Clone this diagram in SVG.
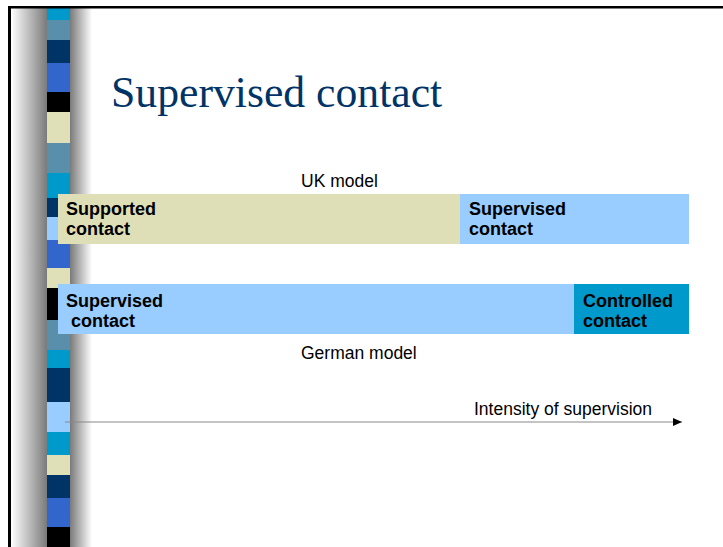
<svg xmlns="http://www.w3.org/2000/svg" width="723" height="547" viewBox="0 0 723 547">
<style>
.lbl{font-family:"Liberation Sans",Arial,sans-serif;font-size:18px;font-weight:bold;fill:#000}
.cap{font-family:"Liberation Sans",Arial,sans-serif;font-size:17.5px;fill:#000}
.title{font-family:"Liberation Serif","Times New Roman",serif;font-size:43.7px;fill:#003366}
</style>
<defs>
<linearGradient id="gl" x1="0" y1="0" x2="1" y2="0">
<stop offset="0" stop-color="#ffffff"/>
<stop offset="1" stop-color="#7a7a7a"/>
</linearGradient>
<linearGradient id="gr" x1="0" y1="0" x2="1" y2="0">
<stop offset="0" stop-color="#7a7a7a"/>
<stop offset="1" stop-color="#ffffff"/>
</linearGradient>
<marker id="ah" markerWidth="10" markerHeight="8" refX="9" refY="4" orient="auto" markerUnits="userSpaceOnUse">
<path d="M0,0 L9,4 L0,8 Z" fill="#000"/>
</marker>
</defs>
<rect x="0" y="0" width="723" height="547" fill="#fff"/>
<g id="background">
<rect x="11" y="8" width="36" height="539" fill="url(#gl)"/>
<rect x="70" y="8" width="22" height="539" fill="url(#gr)"/>
<g id="strip">
<rect x="47" y="8" width="23" height="12" fill="#0099cc"/>
<rect x="47" y="20" width="23" height="20" fill="#5a8fab"/>
<rect x="47" y="40" width="23" height="23" fill="#003366"/>
<rect x="47" y="63" width="23" height="29" fill="#3366cc"/>
<rect x="47" y="92" width="23" height="20" fill="#000000"/>
<rect x="47" y="112" width="23" height="31" fill="#e0e0b8"/>
<rect x="47" y="143" width="23" height="30" fill="#5a8fab"/>
<rect x="47" y="173" width="23" height="25" fill="#0099cc"/>
<rect x="47" y="198" width="23" height="19" fill="#003366"/>
<rect x="47" y="217" width="23" height="23" fill="#99ccff"/>
<rect x="47" y="240" width="23" height="28" fill="#3366cc"/>
<rect x="47" y="268" width="23" height="20" fill="#e0e0b8"/>
<rect x="47" y="288" width="23" height="32" fill="#000000"/>
<rect x="47" y="320" width="23" height="30" fill="#5a8fab"/>
<rect x="47" y="350" width="23" height="18" fill="#0099cc"/>
<rect x="47" y="368" width="23" height="34" fill="#003366"/>
<rect x="47" y="402" width="23" height="30" fill="#99ccff"/>
<rect x="47" y="432" width="23" height="23" fill="#0099cc"/>
<rect x="47" y="455" width="23" height="20" fill="#e0e0b8"/>
<rect x="47" y="475" width="23" height="23" fill="#003366"/>
<rect x="47" y="498" width="23" height="29" fill="#3366cc"/>
<rect x="47" y="527" width="23" height="20" fill="#000000"/>
</g>
<rect x="8" y="6" width="715" height="2.5" fill="#000"/>
<rect x="8" y="6" width="3" height="541" fill="#000"/>
</g>
<g id="title">
<text class="title" x="111" y="107">Supervised contact</text>
</g>
<g id="uk-label"><text class="cap" x="301" y="187">UK model</text></g>
<g id="uk-supported">
<rect x="58" y="194" width="402" height="50" fill="#dfdfb7"/>
<text class="lbl" x="66" y="215">Supported</text>
<text class="lbl" x="66" y="235">contact</text>
</g>
<g id="uk-supervised">
<rect x="460" y="194" width="229" height="50" fill="#99ccff"/>
<text class="lbl" x="469" y="215">Supervised</text>
<text class="lbl" x="469" y="235">contact</text>
</g>
<g id="de-supervised">
<rect x="58" y="284" width="516" height="50" fill="#99ccff"/>
<text class="lbl" x="66" y="307">Supervised</text>
<text class="lbl" x="71" y="327">contact</text>
</g>
<g id="de-controlled">
<rect x="574" y="284" width="115" height="50" fill="#0099cc"/>
<text class="lbl" x="583" y="307">Controlled</text>
<text class="lbl" x="583" y="327">contact</text>
</g>
<g id="de-label"><text class="cap" x="301" y="359">German model</text></g>
<g id="axis-label"><text class="cap" x="474" y="415">Intensity of supervision</text></g>
<g id="connectors">
<line x1="65" y1="422" x2="682" y2="422" stroke="#888" stroke-width="1" marker-end="url(#ah)"/>
</g>
</svg>
